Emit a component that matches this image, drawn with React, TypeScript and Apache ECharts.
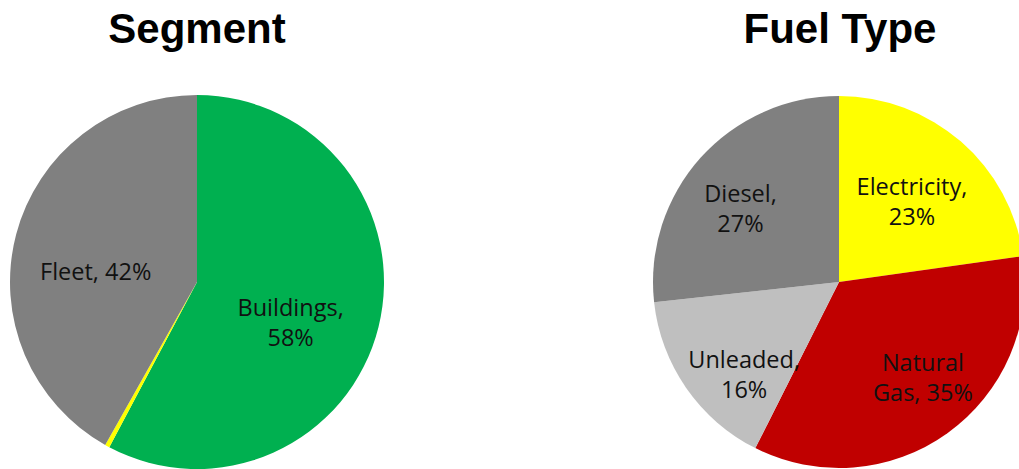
import React, { useEffect, useRef } from "react";
import * as echarts from "echarts";

const segmentNames = ["Buildings", "Other", "Fleet"];
const segmentValues = [58, 0.4, 42];
const segmentLabels = ["Buildings,\n58%", "", "Fleet, 42%"];
const segmentColors = ["#00B050", "#FFFF00", "#808080"];
const segmentOffsets = [[0, 17], [0, 0], [-8, 13]];

const fuelNames = ["Electricity", "Natural Gas", "Unleaded", "Diesel"];
const fuelValues = [23, 35, 16, 27];
const fuelLabels = ["Electricity,\n23%", "Natural\nGas, 35%", "Unleaded,\n16%", "Diesel,\n27%"];
const fuelColors = ["#FFFF00", "#C00000", "#BFBFBF", "#808080"];
const fuelOffsets = [[10, -9], [28, 17], [-16, 37], [-27, -10]];

const labelFont = {
  fontFamily: "Open Sans",
  fontSize: 23.5,
  lineHeight: 30,
  color: "#111",
};

function buildData(names: string[], values: number[], labels: string[], colors: string[], offsets: number[][]) {
  return names.map((n, i) => ({
    name: n,
    value: values[i],
    itemStyle: { color: colors[i] },
    label: labels[i]
      ? { show: true, formatter: labels[i], offset: offsets[i], ...labelFont }
      : { show: false },
  }));
}

export default function App() {
  const ref = useRef<HTMLDivElement>(null);
  useEffect(() => {
    document.body.style.margin = "0";
    const chart = echarts.init(ref.current!, undefined, { renderer: "svg" });
    chart.setOption({
      animation: false,
      backgroundColor: "#ffffff",
      title: [
        {
          text: "Segment",
          left: 192,
          top: 2,
          textAlign: "center",
          textStyle: { fontFamily: "Liberation Sans", fontWeight: "bold", fontSize: 42, color: "#000" },
        },
        {
          text: "Fuel Type",
          left: 835,
          top: 2,
          textAlign: "center",
          textStyle: { fontFamily: "Liberation Sans", fontWeight: "bold", fontSize: 42, color: "#000" },
        },
      ],
      series: [
        {
          type: "pie",
          center: [197, 282],
          radius: 187,
          startAngle: 90,
          clockwise: true,
          silent: true,
          label: { position: "inside" },
          labelLine: { show: false },
          itemStyle: { borderWidth: 0 },
          data: buildData(segmentNames, segmentValues, segmentLabels, segmentColors, segmentOffsets),
        },
        {
          type: "pie",
          center: [839, 282],
          radius: 186,
          startAngle: 90,
          clockwise: true,
          silent: true,
          label: { position: "inside" },
          labelLine: { show: false },
          itemStyle: { borderWidth: 0 },
          data: buildData(fuelNames, fuelValues, fuelLabels, fuelColors, fuelOffsets),
        },
      ],
    });
    return () => chart.dispose();
  }, []);
  return <div ref={ref} style={{ width: 1019, height: 469 }} />;
}
